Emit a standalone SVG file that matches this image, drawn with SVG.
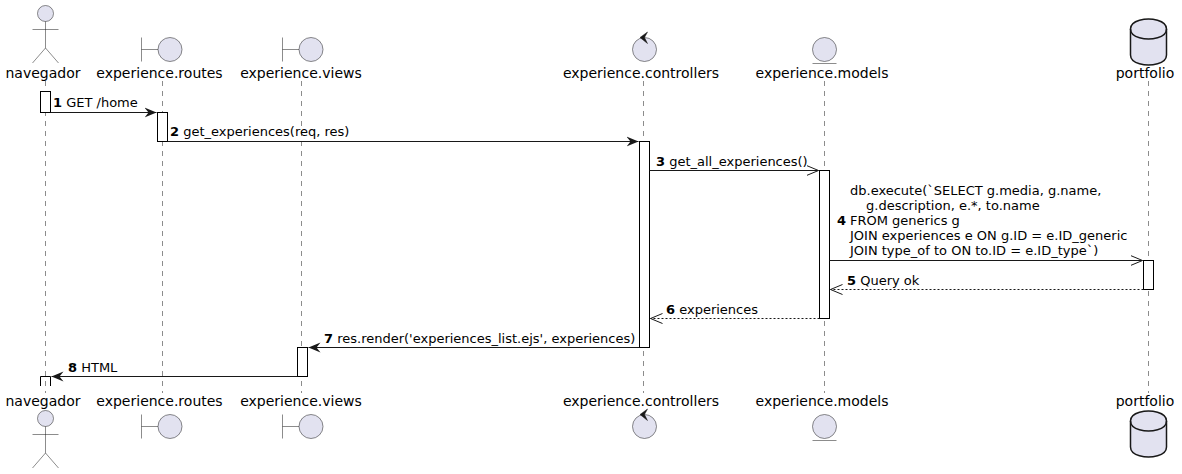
<svg xmlns="http://www.w3.org/2000/svg" width="1182" height="474" viewBox="0 0 1182 474">
<style>
text{font-family:"DejaVu Sans",sans-serif;font-size:13px;fill:#000}
.n{font-weight:bold}
.p{font-size:14px;text-anchor:middle}
.life{stroke:#181818;stroke-width:.5;stroke-dasharray:5,5;fill:none}
.act{fill:#fff;stroke:#000;stroke-width:1}
.ln{stroke:#181818;stroke-width:1;fill:none}
.dash{stroke-dasharray:2,2}
.shape{fill:#E2E2F0;stroke:#181818;stroke-width:.5}
.stroke{fill:none;stroke:#181818;stroke-width:.5}
.db{fill:#E2E2F0;stroke:#181818;stroke-width:1.5}
</style>
<defs>
<marker id="solid" markerUnits="userSpaceOnUse" markerWidth="14" markerHeight="12" refX="12" refY="6" orient="auto"><path d="M0 1 L12 6 L0 11 L4 6 Z" fill="#181818"/></marker>
<marker id="open" markerUnits="userSpaceOnUse" markerWidth="14" markerHeight="12" refX="12" refY="6" orient="auto"><path d="M0 1 L12 6 L0 11" fill="none" stroke="#181818" stroke-width="1"/></marker>
<g id="actorShape"><circle class="shape" cx="45.5" cy="13.5" r="8"/><path class="stroke" d="M45.5 21.5V48M32.5 29.5H58.5M45.5 48L32.5 63M45.5 48L58.5 63"/></g>
<g id="boundaryShape"><circle class="shape" cx="28.5" cy="49.5" r="12"/><path class="stroke" d="M0 37.5V61.5M0 49.5H16.5"/></g>
<g id="controlShape"><circle class="shape" cx="644.5" cy="49.5" r="12"/><path d="M647.5 32L640 37.500L647.500 43.500L644.500 37.500Z" fill="#181818" stroke="#181818" stroke-width=".5"/></g>
<g id="entityShape"><circle class="shape" cx="824.500" cy="49.500" r="12"/><path class="stroke" d="M812.500 63.500H836.500"/></g>
<g id="dbShape"><path class="db" d="M1130.500 29C1130.500 19 1148.500 19 1148.500 19C1148.500 19 1166.500 19 1166.500 29V55C1166.500 65 1148.500 65 1148.500 65C1148.500 65 1130.500 65 1130.500 55Z"/><path class="db" style="fill:none" d="M1130.500 29C1130.500 39 1148.500 39 1148.500 39C1148.500 39 1166.500 39 1166.500 29"/></g>
</defs>
<g id="lifelines">
<path class="life" d="M45.500 81V393"/><path class="life" d="M162.500 81V393"/><path class="life" d="M301.500 81V393"/><path class="life" d="M643.500 81V393"/><path class="life" d="M824.500 81V393"/><path class="life" d="M1148.500 81V393"/>
</g>
<g id="activations">
<rect class="act" x="40.500" y="91.500" width="10" height="21"/>
<rect class="act" x="157.500" y="112.500" width="10" height="29"/>
<rect class="act" x="639.500" y="141.500" width="10" height="206"/>
<rect class="act" x="819.500" y="170.500" width="10" height="148"/>
<rect class="act" x="1143.500" y="260.500" width="10" height="29"/>
<rect class="act" x="297.500" y="347.500" width="10" height="29"/>
<path class="act" style="fill:none" d="M40.500 386V376.500H50.500V386"/>
</g>
<g id="connectors">
<path class="ln" d="M50.500 112.500H156.500" marker-end="url(#solid)"/>
<path class="ln" d="M167.500 141.500H638.500" marker-end="url(#solid)"/>
<path class="ln" d="M649.500 170.500H818.500" marker-end="url(#open)"/>
<path class="ln" d="M829.500 260.500H1142.500" marker-end="url(#open)"/>
<path class="ln dash" d="M1143.500 289.500H830.500" marker-end="url(#open)"/>
<path class="ln dash" d="M819.500 318.500H650.500" marker-end="url(#open)"/>
<path class="ln" d="M639.500 347.500H308.500" marker-end="url(#solid)"/>
<path class="ln" d="M297.500 376.500H51.500" marker-end="url(#solid)"/>
</g>
<g id="labels">
<text x="53" y="107"><tspan class="n">1</tspan> GET /home</text>
<text x="170" y="136"><tspan class="n">2</tspan> get_experiences(req, res)</text>
<text x="656" y="166"><tspan class="n">3</tspan> get_all_experiences()</text>
<text x="837" y="225" class="n">4</text>
<text x="850" y="195">db.execute(`SELECT g.media, g.name,</text>
<text x="866" y="210">g.description, e.*, to.name</text>
<text x="850" y="225">FROM generics g</text>
<text x="850" y="240">JOIN experiences e ON g.ID = e.ID_generic</text>
<text x="850" y="255">JOIN type_of to ON to.ID = e.ID_type`)</text>
<text x="847" y="285"><tspan class="n">5</tspan> Query ok</text>
<text x="666" y="314"><tspan class="n">6</tspan> experiences</text>
<text x="324" y="343"><tspan class="n">7</tspan> res.render('experiences_list.ejs', experiences)</text>
<text x="68" y="372"><tspan class="n">8</tspan> HTML</text>
</g>
<g id="navegador"><use href="#actorShape"/><use href="#actorShape" y="405"/><text class="p" x="43" y="78">navegador</text><text class="p" x="43" y="406">navegador</text></g>
<g id="experience.routes"><use href="#boundaryShape" x="141.500"/><use href="#boundaryShape" x="141.500" y="377"/><text class="p" x="159.500" y="78">experience.routes</text><text class="p" x="159.500" y="406">experience.routes</text></g>
<g id="experience.views"><use href="#boundaryShape" x="282.500"/><use href="#boundaryShape" x="282.500" y="377"/><text class="p" x="301" y="78">experience.views</text><text class="p" x="301" y="406">experience.views</text></g>
<g id="experience.controllers"><use href="#controlShape"/><use href="#controlShape" y="377"/><text class="p" x="641" y="78">experience.controllers</text><text class="p" x="641" y="406">experience.controllers</text></g>
<g id="experience.models"><use href="#entityShape"/><use href="#entityShape" y="377"/><text class="p" x="822" y="78">experience.models</text><text class="p" x="822" y="406">experience.models</text></g>
<g id="portfolio"><use href="#dbShape"/><use href="#dbShape" y="392"/><text class="p" x="1145" y="78">portfolio</text><text class="p" x="1145" y="406">portfolio</text></g>
</svg>
